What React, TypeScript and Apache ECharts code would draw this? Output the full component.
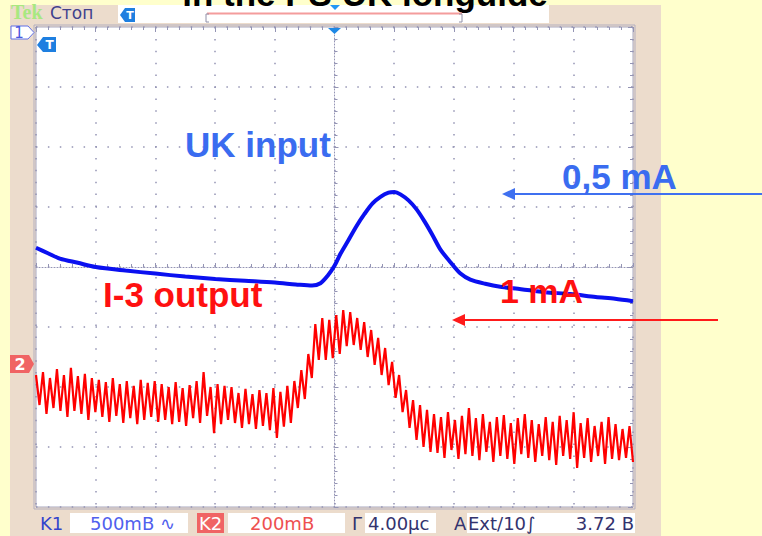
import React, { useEffect, useRef } from "react";
import * as echarts from "echarts";

// Oscilloscope time axis: 4 µs / div, 10 divisions
const TIME_MIN = -20;
const TIME_MAX = 20;
const TIME_STEP = 4;
// vertical: divisions from centre
const DIV_MIN = -4;
const DIV_MAX = 4;

// Channel 1 (blue, "UK input") – time (µs) and level (div)
const BLUE_T = [-20, -19.2, -18.4, -17.2, -16, -14, -12, -10, -8, -6, -4, -2.6, -1.5, -0.94, -0.47, 0, 0.4, 0.94, 1.47, 2, 2.55, 3.08, 3.62, 4.02, 4.42, 4.96, 5.5, 6.03, 6.57, 7.1, 7.77, 8.44, 9.1, 10.1, 11.1, 12.5, 14.1, 15.8, 17.5, 18.8, 20];
const BLUE_V = [0.32, 0.23, 0.14, 0.07, 0.0, -0.06, -0.11, -0.16, -0.2, -0.23, -0.26, -0.29, -0.31, -0.27, -0.15, 0.02, 0.22, 0.45, 0.68, 0.88, 1.06, 1.17, 1.24, 1.25, 1.21, 1.11, 0.96, 0.76, 0.53, 0.29, 0.08, -0.11, -0.21, -0.28, -0.33, -0.37, -0.42, -0.45, -0.5, -0.53, -0.57];

// Channel 2 (red, "I-3 output") – evenly sampled levels (div), peak / trough readings
const RED_V = [
  -1.80, -2.30, -1.75, -2.45, -1.85, -2.35, -1.70, -2.40, -1.80, -2.50, -1.68, -2.40, -1.82, -2.45, -1.78, -2.55, -1.85, -2.42,
  -1.88, -2.50, -1.92, -2.58, -1.85, -2.48, -1.95, -2.60, -1.90, -2.52, -1.98, -2.62, -1.88, -2.55, -1.93, -2.50, -1.90, -2.58,
  -1.95, -2.55, -2.00, -2.62, -1.92, -2.58, -2.02, -2.65, -1.97, -2.52, -1.90, -2.60, -1.75, -2.48, -2.00, -2.77, -1.95, -2.62, -1.98, -2.55,
  -2.00, -2.60, -2.10, -2.68, -2.03, -2.62, -2.12, -2.70, -2.05, -2.65, -2.10, -2.72, -2.02, -2.85, -2.08, -2.66, -1.98, -2.60,
  -1.90, -2.35, -1.72, -2.20, -1.45, -1.85, -0.95, -1.55,
  -0.85, -1.55, -0.88, -1.52, -0.80, -1.45, -0.72, -1.32, -0.75, -1.30, -0.85, -1.38,
  -0.92, -1.50, -1.05, -1.63, -1.18, -1.80, -1.35, -1.97, -1.58, -2.18, -1.80, -2.42, -2.05, -2.68, -2.22, -2.88, -2.30, -3.00, -2.38, -3.08,
  -2.45, -3.10, -2.50, -3.18, -2.42, -3.05, -2.55, -3.20, -2.48, -3.12, -2.35, -3.15, -2.52, -3.22, -2.45, -3.08, -2.58, -3.25, -2.50, -3.15,
  -2.47, -3.20, -2.60, -3.28, -2.52, -3.12, -2.45, -3.18, -2.55, -3.25, -2.62, -3.15, -2.50, -3.22, -2.58, -3.30, -2.48, -3.15, -2.55, -3.20,
  -2.42, -3.35, -2.60, -3.18, -2.52, -3.25, -2.65, -3.15, -2.58, -3.28, -2.50, -3.20, -2.62, -3.22, -2.70, -3.18, -2.65, -3.25,
];

const TITLE = "in the PS UK longuide";
const LABEL_BLUE = "UK input";
const LABEL_BLUE_SCALE = "0,5 mA";
const LABEL_RED = "I-3 output";
const LABEL_RED_SCALE = "1 mA";

const GRID_COLOR = "#9494b4";
const NAVY = "#33336e";
const STATUS_FONT = '18px "DejaVu Sans"';

function txt(text: string, x: number, y: number, fill: string, font: string, align = "left", extra: any = {}) {
  return {
    type: "text",
    z: 120,
    x,
    y,
    style: { text, fill, font, textAlign: align, textVerticalAlign: "middle", ...extra },
  };
}

export default function App() {
  const ref = useRef<HTMLDivElement>(null);

  useEffect(() => {
    if (!ref.current) return;
    const chart = echarts.init(ref.current, undefined, { renderer: "svg" });

    const blueData = BLUE_T.map((t, i) => [t, BLUE_V[i]]);
    const redStep = (TIME_MAX - TIME_MIN) / (RED_V.length - 1);
    const redData = RED_V.map((v, i) => [TIME_MIN + i * redStep, v]);

    const splitDots = { show: true, lineStyle: { color: GRID_COLOR, type: [1.5, 10.4], width: 1.5 } };

    const option: any = {
      animation: false,
      backgroundColor: "#ffffcc",
      grid: {
        left: 36,
        right: 129,
        top: 27,
        bottom: 29,
        show: true,
        backgroundColor: "#ffffff",
        borderColor: "#a8a8c0",
        borderWidth: 1,
      },
      xAxis: [
        {
          type: "value",
          min: TIME_MIN,
          max: TIME_MAX,
          interval: TIME_STEP,
          axisLine: { show: true, onZero: true, lineStyle: { color: GRID_COLOR, type: [1, 2], width: 1 } },
          axisTick: { show: true, inside: true, length: 4, lineStyle: { color: GRID_COLOR } },
          minorTick: { show: true, splitNumber: 5, length: 3, lineStyle: { color: GRID_COLOR } },
          axisLabel: { show: false },
          splitLine: splitDots,
        },
        {
          type: "value",
          position: "top",
          min: TIME_MIN,
          max: TIME_MAX,
          interval: TIME_STEP,
          axisLine: { show: false, onZero: false },
          axisTick: { show: true, inside: true, length: 5, lineStyle: { color: GRID_COLOR } },
          minorTick: { show: true, splitNumber: 5, length: 3, lineStyle: { color: GRID_COLOR } },
          axisLabel: { show: false },
          splitLine: { show: false },
        },
      ],
      yAxis: [
        {
          type: "value",
          min: DIV_MIN,
          max: DIV_MAX,
          interval: 1,
          axisLine: { show: true, onZero: true, lineStyle: { color: GRID_COLOR, type: [1, 2], width: 1 } },
          axisTick: { show: true, inside: true, length: 4, lineStyle: { color: GRID_COLOR } },
          minorTick: { show: true, splitNumber: 5, length: 3, lineStyle: { color: GRID_COLOR } },
          axisLabel: { show: false },
          splitLine: splitDots,
        },
        {
          type: "value",
          position: "right",
          min: DIV_MIN,
          max: DIV_MAX,
          interval: 1,
          axisLine: { show: false, onZero: false },
          axisTick: { show: true, inside: true, length: 5, lineStyle: { color: GRID_COLOR } },
          minorTick: { show: true, splitNumber: 5, length: 3, lineStyle: { color: GRID_COLOR } },
          axisLabel: { show: false },
          splitLine: { show: false },
        },
      ],
      series: [
        {
          type: "line",
          name: "I-3 output",
          data: redData,
          symbol: "none",
          lineStyle: { color: "#ff0000", width: 2.2 },
          z: 3,
        },
        {
          type: "line",
          name: "UK input",
          data: blueData,
          symbol: "none",
          smooth: 0.3,
          lineStyle: { color: "#0a10f0", width: 4 },
          z: 4,
        },
      ],
      graphic: [
        // instrument panel
        { type: "rect", z: -1, shape: { x: 10, y: 5, width: 651, height: 531 }, style: { fill: "#ecdccc" } },
        { type: "rect", z: 100, shape: { x: 34, y: 25, width: 601, height: 484 }, style: { fill: "none", stroke: "#b4b0c0", lineWidth: 1 } },
        // header
        { type: "rect", z: 100, shape: { x: 118, y: 5, width: 431, height: 18 }, style: { fill: "#ffffff" } },
        { type: "line", z: 125, shape: { x1: 207, y1: 13.5, x2: 462, y2: 13.5 }, style: { stroke: "#f49c9c", lineWidth: 2 } },
        { type: "polyline", z: 125, shape: { points: [[209, 14], [206, 14], [206, 22], [209, 22]] }, style: { stroke: "#9090a8", lineWidth: 1, fill: "none" } },
        { type: "polyline", z: 125, shape: { points: [[459, 14], [462, 14], [462, 22], [459, 22]] }, style: { stroke: "#9090a8", lineWidth: 1, fill: "none" } },
        { type: "polygon", z: 126, shape: { points: [[330, 5], [340, 5], [335, 10]] }, style: { fill: "#2196f3" } },
        txt("Tek", 11, 12, "#a8e880", 'bold 20px "Liberation Serif"'),
        txt("Стоп", 50, 13, "#40408c", '17px "DejaVu Sans"'),
        // trigger markers
        { type: "polygon", z: 102, shape: { points: [[120, 15], [125, 8], [135, 8], [135, 22], [125, 22]] }, style: { fill: "#1e7fe0" } },
        txt("T", 130, 15, "#ffffff", 'bold 11px "DejaVu Sans"', "center"),
        { type: "polygon", z: 102, shape: { points: [[37, 45], [43, 37], [56, 37], [56, 52], [43, 52]] }, style: { fill: "#1e7fe0" } },
        txt("T", 49.5, 45, "#ffffff", 'bold 12px "DejaVu Sans"', "center"),
        { type: "polygon", z: 102, shape: { points: [[328, 28], [341, 28], [334.5, 34]] }, style: { fill: "#1e88e5" } },
        // channel markers
        { type: "polygon", z: 102, shape: { points: [[11, 26], [28, 26], [34, 32.5], [28, 39], [11, 39]] }, style: { fill: "#ffffff", stroke: "#6070e8", lineWidth: 1 } },
        txt("1", 19, 33, "#4a58e0", '15px "DejaVu Sans"', "center"),
        { type: "polygon", z: 102, shape: { points: [[10, 355], [29, 355], [34, 364], [29, 373], [10, 373]] }, style: { fill: "#f06464" } },
        txt("2", 20, 364, "#ffffff", 'bold 16px "DejaVu Sans"', "center"),
        // status bar
        txt("K1", 40, 523, "#3344cc", STATUS_FONT),
        { type: "rect", z: 100, shape: { x: 70, y: 513, width: 118, height: 20 }, style: { fill: "#ffffff" } },
        txt("500mB ∿", 90, 523, "#5060ee", STATUS_FONT),
        { type: "rect", z: 100, shape: { x: 197, y: 513, width: 27, height: 20 }, style: { fill: "#f06464" } },
        txt("K2", 210.5, 523, "#ffffff", STATUS_FONT, "center"),
        { type: "rect", z: 100, shape: { x: 228, y: 513, width: 117, height: 20 }, style: { fill: "#ffffff" } },
        txt("200mB", 250, 523, "#ee5050", STATUS_FONT),
        txt("Г", 352, 523, NAVY, STATUS_FONT),
        { type: "rect", z: 100, shape: { x: 365, y: 513, width: 71, height: 20 }, style: { fill: "#ffffff" } },
        txt("4.00µc", 368, 523, NAVY, STATUS_FONT),
        txt("A", 454, 523, NAVY, STATUS_FONT),
        { type: "rect", z: 100, shape: { x: 467, y: 513, width: 168, height: 20 }, style: { fill: "#ffffff" } },
        txt("Ext/10∫", 468, 523, NAVY, STATUS_FONT),
        txt("3.72 B", 634, 523, NAVY, STATUS_FONT, "right"),
        // slide overlay texts
        txt(TITLE, 365, -7, "#000000", 'bold 35px "Liberation Sans"', "center"),
        txt(LABEL_BLUE, 185, 144.5, "#3a6cf0", 'bold 35px "Liberation Sans"'),
        txt(LABEL_BLUE_SCALE, 562, 176, "#3a6cf0", 'bold 35px "Liberation Sans"'),
        txt(LABEL_RED, 103, 294.5, "#ff1010", 'bold 35px "Liberation Sans"'),
        txt(LABEL_RED_SCALE, 500, 290.5, "#ff1010", 'bold 34px "Liberation Sans"'),
        // arrows
        { type: "line", z: 110, shape: { x1: 512, y1: 194, x2: 762, y2: 194 }, style: { stroke: "#3f70f0", lineWidth: 2 } },
        { type: "polygon", z: 110, shape: { points: [[502, 194], [515, 188], [515, 200]] }, style: { fill: "#3f70f0" } },
        { type: "line", z: 110, shape: { x1: 462, y1: 320, x2: 718, y2: 320 }, style: { stroke: "#ff1a1a", lineWidth: 2 } },
        { type: "polygon", z: 110, shape: { points: [[452, 320], [465, 314], [465, 326]] }, style: { fill: "#ff1a1a" } },
      ],
    };

    chart.setOption(option);
    return () => chart.dispose();
  }, []);

  return <div ref={ref} style={{ position: "fixed", left: 0, top: 0, width: 762, height: 536 }} />;
}
